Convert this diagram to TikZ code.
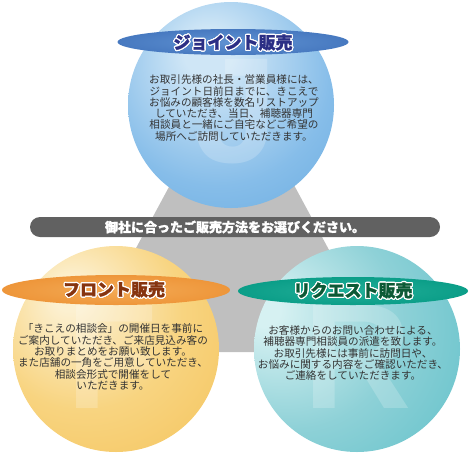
\documentclass[tikz,border=0pt]{standalone}
\usepackage{fontspec}
\newfontfamily\jp{Noto Sans CJK JP}
\newfontfamily\jph{Noto Sans CJK JP}[BoldFeatures={FakeBold=1.5}]
\newfontfamily\lat{Liberation Sans}
\usepackage{contour}
\contourlength{1.2pt}
\contournumber{16}
\definecolor{tri}{HTML}{BFBFBF}
\definecolor{bannerc}{HTML}{616161}
\definecolor{bhi}{HTML}{CFE6F6}
\definecolor{bmid}{HTML}{86BDE9}
\definecolor{bout}{HTML}{5DA4DC}
\definecolor{ohi}{HTML}{FCF0D0}
\definecolor{omid}{HTML}{F8D480}
\definecolor{oout}{HTML}{F4C259}
\definecolor{thi}{HTML}{D6F1F2}
\definecolor{tmid}{HTML}{8ED1D7}
\definecolor{tout}{HTML}{5ABEC7}
\definecolor{elb}{HTML}{4779C0}
\definecolor{elbh}{HTML}{5F92D2}
\definecolor{elo}{HTML}{EE963A}
\definecolor{eloh}{HTML}{F3AA55}
\definecolor{elt}{HTML}{0B9E88}
\definecolor{elth}{HTML}{22AE98}
\definecolor{tnavy}{HTML}{2B2F85}
\definecolor{tbrown}{HTML}{86340F}
\definecolor{tgreen}{HTML}{0C5A36}
\definecolor{body}{HTML}{333333}
\pgfdeclareradialshading{blueball}{\pgfpoint{-6bp}{14bp}}{color(0bp)=(bhi); color(6bp)=(bhi); color(28bp)=(bmid); color(50bp)=(bout); color(70bp)=(bout)}
\pgfdeclareradialshading{orangeball}{\pgfpoint{-12bp}{14bp}}{color(0bp)=(ohi); color(4bp)=(ohi); color(24bp)=(omid); color(46bp)=(oout); color(70bp)=(oout)}
\pgfdeclareradialshading{tealball}{\pgfpoint{-24bp}{10bp}}{color(0bp)=(thi); color(4bp)=(thi); color(26bp)=(tmid); color(50bp)=(tout); color(75bp)=(tout)}
\begin{document}
\begin{tikzpicture}[x=1pt,y=-1pt,
  ball/.style={draw=none},
  label/.style={inner sep=0pt, font=\jph\bfseries\fontsize{17}{17}\selectfont},
  bodytext/.style={inner sep=0pt, align=center, text=body, font=\jp\fontsize{10.6}{11.3}\selectfont},
  bigletter/.style={inner sep=0pt, text=white, text opacity=0.2, font=\lat\bfseries\fontsize{150}{150}\selectfont}]
\useasboundingbox (0,0) rectangle (470,453);
% gray triangle
\fill[tri] (232,70) -- (384,352) -- (80,352) -- cycle;
% circles
\shade[ball, shading=blueball] (231,105) circle (103);
\shade[ball, shading=orangeball] (116,349) circle (103);
\shade[ball, shading=tealball] (357,349) circle (103);
% faint letters
\node[bigletter] (J) at (236,112) {J};
\node[bigletter] (F) at (112,357) {F};
\node[bigletter] (R) at (358,357) {R};
% banner
\node[fill=bannerc, rounded corners=10pt, minimum width=410pt, minimum height=20pt, inner sep=0pt,
  text=white, font=\jph\bfseries\fontsize{13}{13}\selectfont] (banner) at (235,227) {御社に合ったご販売方法をお選びください。};
% ellipses
\shade[inner color=elbh, outer color=elb] (233,42) ellipse (115.5 and 13);
\shade[inner color=eloh, outer color=elo] (116,290) ellipse (114 and 15);
\shade[inner color=elth, outer color=elt] (353,291) ellipse (115 and 14);
% titles
\node[label, text=tnavy] (t1) at (233,43) {\contour{white}{ジョイント販売}};
\node[label, text=tbrown] (t2) at (114,290) {\contour{white}{フロント販売}};
\node[label, text=tgreen] (t3) at (353,291) {\contour{white}{リクエスト販売}};
% body texts
\node[bodytext] (b1) at (234,108) {お取引先様の社長・営業員様には、\\ジョイント日前日までに、きこえで\\お悩みの顧客様を数名リストアップ\\していただき、当日、補聴器専門\\相談員と一緒にご自宅などご希望の\\場所へご訪問していただきます。};
\node[bodytext] (b2) at (113,357) {「きこえの相談会」の開催日を事前に\\ご案内していただき、ご来店見込み客の\\お取りまとめをお願い致します。\\また店舗の一角をご用意していただき、\\相談会形式で開催をして\\いただきます。};
\node[bodytext] (b3) at (353,353) {お客様からのお問い合わせによる、\\補聴器専門相談員の派遣を致します。\\お取引先様には事前に訪問日や、\\お悩みに関する内容をご確認いただき、\\ご連絡をしていただきます。};
\end{tikzpicture}
\end{document}
